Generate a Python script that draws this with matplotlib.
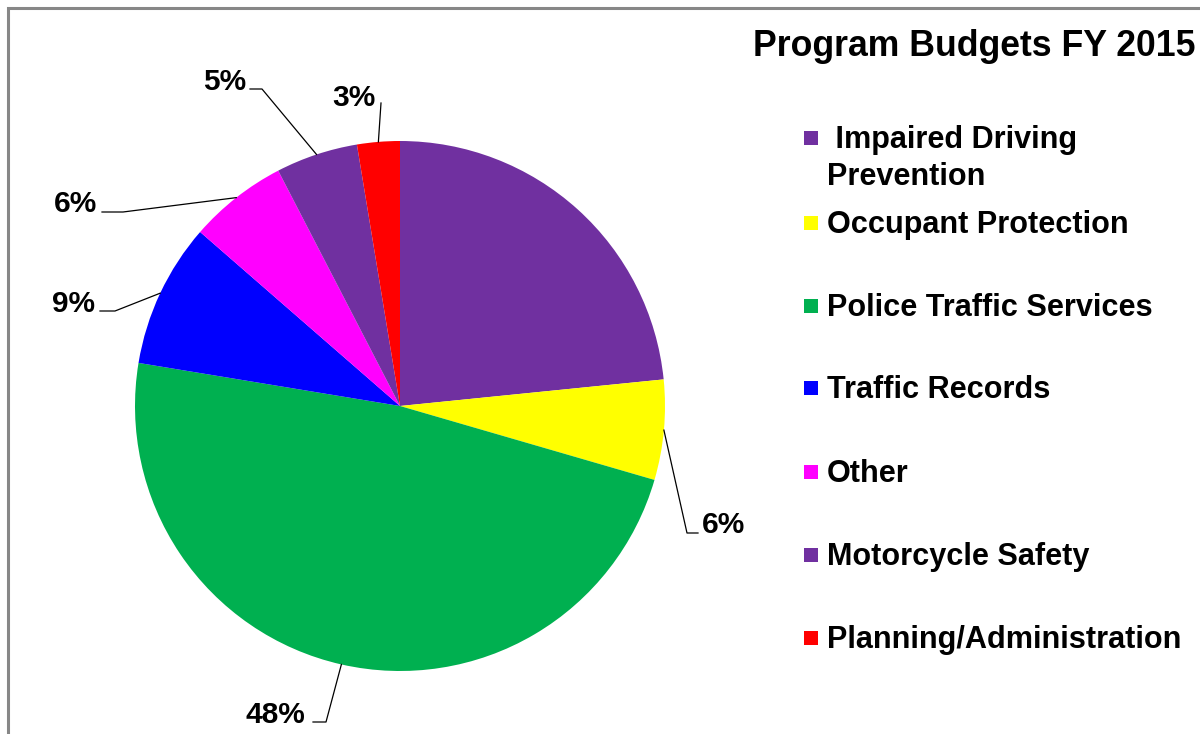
import matplotlib
matplotlib.use('Agg')
import matplotlib.pyplot as plt
import numpy as np
from matplotlib.patches import Rectangle

plt.rcParams['font.family'] = ['Liberation Sans', 'DejaVu Sans']

# Budget shares (percent), clockwise from 12 o'clock
categories = ['Impaired Driving Prevention', 'Occupant Protection', 'Police Traffic Services',
              'Traffic Records', 'Other', 'Motorcycle Safety', 'Planning/Administration']
legend_labels = [' Impaired Driving\nPrevention', 'Occupant Protection', 'Police Traffic Services',
                 'Traffic Records', 'Other', 'Motorcycle Safety', 'Planning/Administration']
shares = [23.4, 6.1, 48.1, 8.8, 6.0, 5.0, 2.6]
pct_labels = [None, '6%', '48%', '9%', '6%', '5%', '3%']
colors = ['#7030A0', '#FFFF00', '#00B050', '#0000FF', '#FF00FF', '#7030A0', '#FF0000']

W, H = 1200, 734


def py(y):
    # reference pixel row -> data y
    return H - y


fig = plt.figure(figsize=(12, 7.34), dpi=100)
ax = fig.add_axes([0, 0, 1, 1])
ax.set_xlim(0, W)
ax.set_ylim(0, H)
ax.set_aspect('equal')
ax.axis('off')

# frame of the chart area
ax.plot([8, 8, W + 5], [-5, py(8), py(8)], color='#878787', lw=2.2, solid_joinstyle='miter')

# Pie
cx, cy, r = 400, py(406), 265
wedges, _ = ax.pie(shares, colors=colors, startangle=90, counterclock=False,
                   center=(cx, cy), radius=r, wedgeprops=dict(linewidth=0))
ax.set_xlim(0, W)
ax.set_ylim(0, H)

# data label layout: text anchor (left x, baseline y), elbow, line end near text
label_layout = [
    None,
    ((702, 533), (687, 533), (698, 533)),
    ((246, 723), (326, 722), (313, 722)),
    ((52, 312), (115, 311), (100, 311)),
    ((54, 212), (123, 212), (102, 212)),
    ((203, 90), (262, 89), (250, 89)),
    ((332, 106), (381, 103), (381, 103)),
]

for w, lab, lay in zip(wedges, pct_labels, label_layout):
    if lab is None:
        continue
    mid = np.deg2rad((w.theta1 + w.theta2) / 2)
    ex, ey = cx + r * np.cos(mid), cy + r * np.sin(mid)
    (tx, ty), (bx, by), (lx, ly) = lay
    ax.plot([ex, bx, lx], [ey, py(by), py(ly)], color='black', lw=0.9)
    ax.text(tx, py(ty), lab, ha='left', va='baseline', fontsize=21.5,
            fontweight='bold', color='black')

# Title
ax.text(753, py(56), 'Program Budgets FY 2015', ha='left', va='baseline',
        fontsize=25.7, fontweight='bold', color='black')

# Legend
row_baselines = [148, 233, 316, 398, 482, 565, 648]
for lab, col, base in zip(legend_labels, colors, row_baselines):
    ax.add_patch(Rectangle((804, py(base - 3)), 14, 14, facecolor=col, edgecolor='none'))
    for i, line in enumerate(lab.split('\n')):
        ax.text(827, py(base + 37 * i), line, ha='left', va='baseline',
                fontsize=22.1, fontweight='bold', color='black')

fig.savefig('out.png', dpi=100, facecolor='white')
